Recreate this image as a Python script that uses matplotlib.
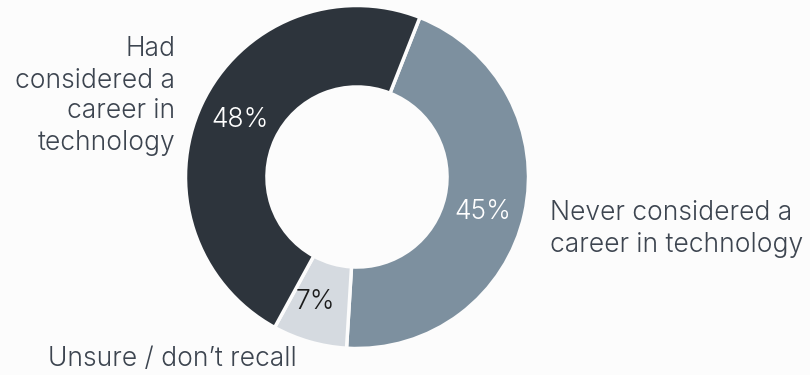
import matplotlib
matplotlib.use("Agg")
import matplotlib.pyplot as plt

categories = ["Never considered a\ncareer in technology", "Unsure / don\u2019t recall",
              "Had\nconsidered a\ncareer in\ntechnology"]
shares = [45, 7, 48]
pct_labels = ["45%", "7%", "48%"]
colors = ["#7d909f", "#d5dae0", "#2d343c"]
pct_colors = ["white", "#1c1c1c", "white"]

W, H = 810, 375
fig = plt.figure(figsize=(W / 100, H / 100), dpi=100, facecolor="#fcfcfc")
ax = fig.add_axes([0, 0, 1, 1])

cx, cy, r = 357, 198, 171.5
wedges, _ = ax.pie(shares, colors=colors, startangle=68.5, counterclock=False,
                   radius=r, center=(cx, cy), frame=True,
                   wedgeprops=dict(width=r * 0.475, edgecolor="#fcfcfc", linewidth=2.5))
ax.set_xlim(0, W)
ax.set_ylim(0, H)
ax.set_aspect("equal")
ax.axis("off")

font = dict(family=["Inter", "DejaVu Sans"], fontweight=300, fontsize=19)
text_color = "#3d4550"

# percentage labels placed inside each ring segment
pct_pos = [(483, 163), (315, 73), (240, 255)]
for (x, y), t, c in zip(pct_pos, pct_labels, pct_colors):
    ax.text(x, y, t, ha="center", va="center", color=c, **font)

# category labels around the ring
ax.text(550, 146, categories[0], ha="left", va="center", color=text_color,
        linespacing=1.25, **font)
ax.text(48, 16, categories[1], ha="left", va="center", color=text_color, **font)
ax.text(175, 279, categories[2], ha="right", va="center", color=text_color,
        linespacing=1.25, **font)

fig.savefig("out.png", dpi=100, facecolor=fig.get_facecolor())
